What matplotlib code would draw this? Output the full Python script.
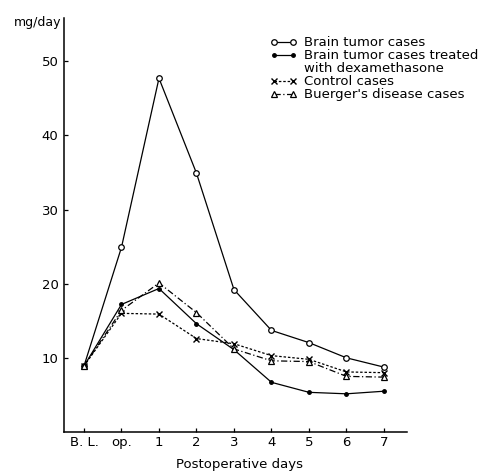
import matplotlib.pyplot as plt
from matplotlib.lines import Line2D

plt.rcParams["font.family"] = ["DejaVu Sans"]

days = ["B. L.", "op.", "1", "2", "3", "4", "5", "6", "7"]
brain_tumor = [8.9, 24.9, 47.7, 34.9, 19.2, 13.7, 12.05, 10.0, 8.75]
dexamethasone = [8.9, 17.2, 19.35, 14.6, 11.1, 6.7, 5.35, 5.15, 5.5]
control = [8.9, 16.0, 15.9, 12.6, 11.9, 10.3, 9.8, 8.1, 8.0]
buerger = [8.9, 16.4, 20.1, 16.1, 11.2, 9.6, 9.5, 7.5, 7.4]
yticks = [10, 20, 30, 40, 50]

fig = plt.figure(figsize=(4.87, 4.74), dpi=100)
ax = fig.add_axes([0.1314, 0.0886, 0.704, 0.873])
x = list(range(len(days)))

h1, = ax.plot(x, brain_tumor, color="black", lw=0.9, marker="o", ms=4,
              mfc="white", mec="black", mew=0.9)
h2, = ax.plot(x, dexamethasone, color="black", lw=0.9, marker="o", ms=2.5,
              mfc="black", mec="black")
h3, = ax.plot(x, control, color="black", lw=0.9, ls=(0, (2, 1.5)),
              marker="x", ms=5, mew=1.0)
h4, = ax.plot(x, buerger, color="black", lw=0.9, ls=(0, (5, 2, 1, 2)),
              marker="^", ms=4.5, mfc="white", mec="black", mew=0.9)

ax.set_xlim(-0.533, 8.61)
ax.set_ylim(0, 55.8)
ax.set_xticks(x)
ax.set_xticklabels(days, fontsize=9.5)
ax.set_yticks(yticks)
ax.set_yticklabels([str(v) for v in yticks], fontsize=9.5)
ax.tick_params(axis="both", direction="in", length=3, width=0.9, pad=3)
ax.tick_params(axis="y", pad=4)
ax.spines[["top", "right"]].set_visible(False)
ax.spines[["left", "bottom"]].set_linewidth(1.1)

fig.text(0.028, 0.953, "mg/day", fontsize=9, ha="left", va="center")
fig.text(0.492, 0.02, "Postoperative days", fontsize=9.5, ha="center",
         va="center")

blank = Line2D([], [], lw=0, marker=None)
handles = [h1, h2, blank, h3, h4]
labels = ["Brain tumor cases", "Brain tumor cases treated",
          "with dexamethasone", "Control cases", "Buerger's disease cases"]
leg = ax.legend(handles, labels, loc="upper left",
                bbox_to_anchor=(0.540, 0.937),
                bbox_transform=fig.transFigure, frameon=False, fontsize=9.5,
                handlelength=2.1, handletextpad=0.5, labelspacing=0.0,
                numpoints=2, borderpad=0)

fig.savefig("out.png", dpi=100)
